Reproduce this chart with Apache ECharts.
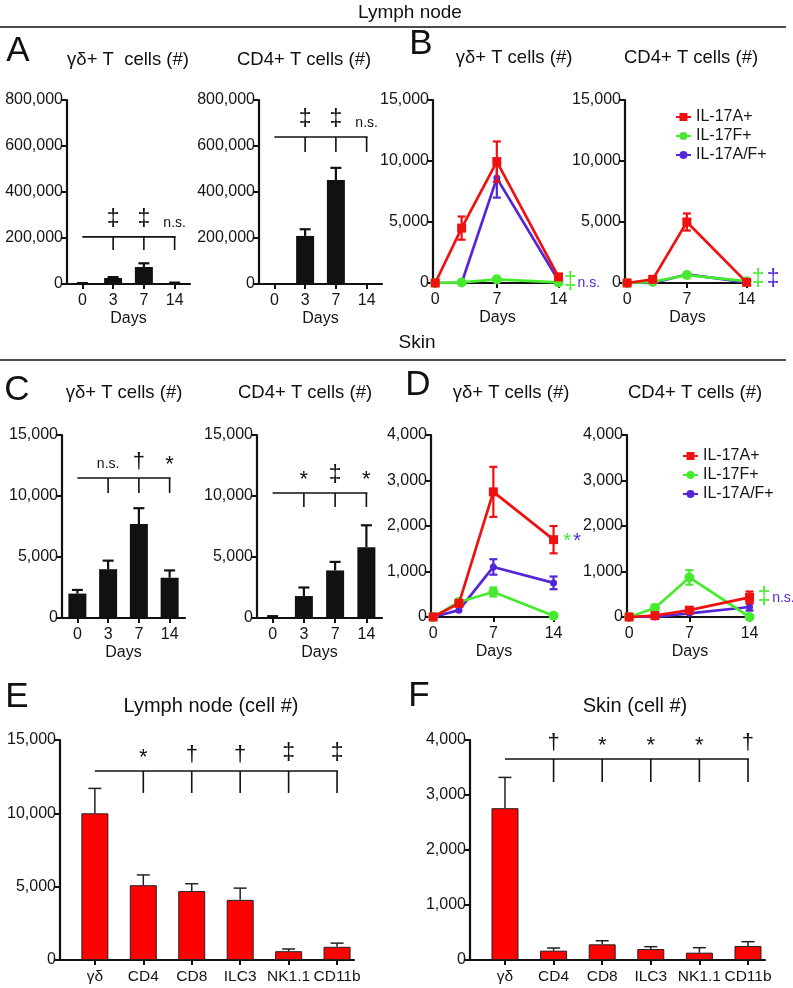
<!DOCTYPE html>
<html><head><meta charset="utf-8">
<script src="https://cdn.jsdelivr.net/npm/echarts@6/dist/echarts.min.js"></script>
<style>html,body{margin:0;padding:0;background:#fff}#c{width:793px;height:988px}</style>
</head><body><div id="c"></div>
<script>
// ---------------- data ----------------
const dayCats = ['0', '3', '7', '14'];
const days = [0, 3, 7, 14];
const dayTicks = [0, 7, 14];
// Panel A: lymph node totals (mean, mean+SEM)
const aGdMean = [3000, 26000, 74000, 4000];
const aGdTop = [4000, 30000, 90000, 6000];
const aCd4Mean = [0, 209000, 452000, 0];
const aCd4Top = [0, 238000, 505000, 0];
// Panel B: lymph node IL-17 producers (mean, SEM)
const bGdA = [0, 4500, 9950, 500];
const bGdAsem = [0, 950, 1650, 0];
const bGdF = [0, 50, 300, 50];
const bGdFsem = [0, 0, 0, 0];
const bGdAF = [0, 0, 8600, 200];
const bGdAFsem = [0, 0, 1600, 0];
const bCd4A = [0, 300, 5000, 50];
const bCd4Asem = [0, 0, 700, 0];
const bCd4F = [0, 100, 650, 150];
const bCd4Fsem = [0, 0, 0, 0];
const bCd4AF = [0, 0, 700, 50];
const bCd4AFsem = [0, 0, 0, 0];
// Panel C: skin totals
const cGdMean = [2000, 4000, 7700, 3300];
const cGdTop = [2300, 4700, 9000, 3900];
const cCd4Mean = [50, 1800, 3900, 5800];
const cCd4Top = [150, 2500, 4600, 7600];
// Panel D: skin IL-17 producers
const dGdA = [0, 300, 2750, 1700];
const dGdAsem = [0, 0, 550, 300];
const dGdF = [0, 330, 550, 30];
const dGdFsem = [0, 0, 100, 0];
const dGdAF = [0, 150, 1100, 750];
const dGdAFsem = [0, 0, 170, 140];
const dCd4A = [0, 30, 150, 430];
const dCd4Asem = [0, 0, 0, 130];
const dCd4F = [0, 200, 870, 0];
const dCd4Fsem = [0, 70, 160, 0];
const dCd4AF = [0, 0, 80, 220];
const dCd4AFsem = [0, 0, 0, 80];
// Panels E, F: IL-17A+ cell numbers by cell type
const cellCats = ['γδ', 'CD4', 'CD8', 'ILC3', 'NK1.1', 'CD11b'];
const eMean = [10000, 5100, 4700, 4100, 600, 900];
const eTop = [11700, 5800, 5200, 4900, 750, 1150];
const fMean = [2760, 170, 285, 200, 133, 255];
const fTop = [3320, 218, 350, 242, 224, 333];
const seriesNames = ['IL-17A+', 'IL-17F+', 'IL-17A/F+'];
// significance brackets: grid, start category, tick categories, bracket level, tick bottom, marks
const brackets = [
  {grid: 0, start: 0, ticks: [1, 2, 3], level: 205000, drop: 148000, marks: ['‡', '‡', 'n.s.']},
  {grid: 1, start: 0, ticks: [1, 2, 3], level: 639000, drop: 574000, marks: ['‡', '‡', 'n.s.']},
  {grid: 4, start: 0, ticks: [1, 2, 3], level: 11475, drop: 10250, marks: ['n.s.', '†', '*']},
  {grid: 5, start: 0, ticks: [1, 2, 3], level: 10250, drop: 9100, marks: ['*', '‡', '*']},
  {grid: 8, start: 0, ticks: [1, 2, 3, 4, 5], level: 12890, drop: 11390, marks: ['*', '†', '†', '‡', '‡']},
  {grid: 9, start: 0, ticks: [1, 2, 3, 4, 5], level: 3655, drop: 3236, marks: ['†', '*', '*', '*', '†']}
];
// side marks next to day-14 points: grid, anchor value, text, series colour key
const sideMarks = [
  {grid: 2, y: 0, text: '‡', key: 'F'}, {grid: 2, y: 0, text: 'n.s.', key: 'AF'},
  {grid: 3, y: 300, text: '‡', key: 'F'}, {grid: 3, y: 300, text: '‡', key: 'AF'},
  {grid: 6, y: 1650, text: '*', key: 'F'}, {grid: 6, y: 1650, text: '*', key: 'AF'},
  {grid: 7, y: 420, text: '‡', key: 'F'}, {grid: 7, y: 420, text: 'n.s.', key: 'AF'}
];

// ---------------- styles ----------------
const FONT = '"Liberation Sans", Arial, Helvetica, sans-serif';
const RED = '#f01010', GREEN = '#48ea30', PURPLE = '#5526d8', INK = '#111';
const COLORS = {A: RED, F: GREEN, AF: PURPLE};
const sideDx = [12, 19, 11.5, 26.5, 13.6, 23.6, 14.6, 22.6];
const sideSize = {'‡': 23, '*': 20, 'n.s.': 14};
const markOff = {'‡': 17, '†': 16, '*': 13, 'n.s.': 14};
const markSize = {'‡': 23, '†': 22, '*': 22, 'n.s.': 14};

function fmt(v) { return String(Math.round(v)).replace(/\B(?=(\d{3})+(?!\d))/g, ','); }

const grids = [
  {left: 67, top: 100, width: 123, height: 184},
  {left: 259, top: 100, width: 123, height: 184},
  {left: 433, top: 100, width: 129, height: 183},
  {left: 625, top: 100, width: 125, height: 183},
  {left: 62, top: 435, width: 123, height: 183},
  {left: 257, top: 435, width: 125, height: 183},
  {left: 431, top: 435, width: 126, height: 182},
  {left: 627, top: 435, width: 126, height: 182},
  {left: 60, top: 740, width: 294, height: 220},
  {left: 470, top: 740, width: 295, height: 220}
];

const axLine = {show: true, onZero: false, lineStyle: {color: INK, width: 2.2}};
const axTick = {show: true, length: 5, lineStyle: {color: INK, width: 2}};
const lblStyle = {color: '#151515', fontSize: 16, fontFamily: FONT};
const cellLblStyle = {color: '#151515', fontSize: 15.5, fontFamily: FONT};

function yAx(gi, max, interval) {
  return {type: 'value', gridIndex: gi, min: 0, max: max, interval: interval,
    axisLine: axLine, axisTick: axTick, splitLine: {show: false},
    axisLabel: Object.assign({margin: 4, formatter: fmt}, lblStyle)};
}
function xCat(gi) {
  return {type: 'category', gridIndex: gi, data: dayCats,
    axisLine: axLine, axisTick: Object.assign({alignWithLabel: true}, axTick),
    axisLabel: Object.assign({margin: 9}, lblStyle),
    name: 'Days', nameLocation: 'middle', nameGap: 27, nameTextStyle: lblStyle};
}
function xDay(gi) {
  return {type: 'value', gridIndex: gi, min: -0.25, max: 14.4,
    axisLine: axLine, splitLine: {show: false},
    axisTick: Object.assign({customValues: dayTicks}, axTick),
    axisLabel: Object.assign({margin: 9, customValues: dayTicks}, lblStyle),
    name: 'Days', nameLocation: 'middle', nameGap: 27, nameTextStyle: lblStyle};
}
function xCell(gi) {
  const idx = cellCats.map((c, i) => i);
  return {type: 'value', gridIndex: gi, min: -0.72, max: 5.35,
    axisLine: axLine, splitLine: {show: false},
    axisTick: Object.assign({customValues: idx}, axTick),
    axisLabel: Object.assign({margin: 9, customValues: idx, formatter: v => cellCats[Math.round(v)]}, cellLblStyle)};
}

const xAxes = [xCat(0), xCat(1), xDay(2), xDay(3), xCat(4), xCat(5), xDay(6), xDay(7), xCell(8), xCell(9)];
const yAxes = [yAx(0, 800000, 200000), yAx(1, 800000, 200000), yAx(2, 15000, 5000), yAx(3, 15000, 5000),
  yAx(4, 15000, 5000), yAx(5, 15000, 5000), yAx(6, 4000, 1000), yAx(7, 4000, 1000),
  yAx(8, 15000, 5000), yAx(9, 4000, 1000)];

function barErrRender(capW, color, lw) {
  return function (params, api) {
    const x = api.value(0), v = api.value(1), t = api.value(2);
    if (t <= v) return null;
    const p1 = api.coord([x, v]), p2 = api.coord([x, t]);
    return {type: 'group', children: [
      {type: 'line', shape: {x1: p1[0], y1: p1[1], x2: p2[0], y2: p2[1]}, style: {stroke: color, lineWidth: lw}},
      {type: 'line', shape: {x1: p2[0] - capW / 2, y1: p2[1], x2: p2[0] + capW / 2, y2: p2[1]}, style: {stroke: color, lineWidth: lw}}
    ]};
  };
}
function lineErrRender(capW, color, lw) {
  return function (params, api) {
    const x = api.value(0), lo = api.value(1), hi = api.value(2);
    if (hi <= lo) return null;
    const p1 = api.coord([x, lo]), p2 = api.coord([x, hi]);
    return {type: 'group', children: [
      {type: 'line', shape: {x1: p1[0], y1: p1[1], x2: p2[0], y2: p2[1]}, style: {stroke: color, lineWidth: lw}},
      {type: 'line', shape: {x1: p2[0] - capW / 2, y1: p2[1], x2: p2[0] + capW / 2, y2: p2[1]}, style: {stroke: color, lineWidth: lw}},
      {type: 'line', shape: {x1: p1[0] - capW / 2, y1: p1[1], x2: p1[0] + capW / 2, y2: p1[1]}, style: {stroke: color, lineWidth: lw}}
    ]};
  };
}

const series = [];
function addBars(gi, mean, top, opts) {
  series.push(Object.assign({type: 'bar', xAxisIndex: gi, yAxisIndex: gi, barWidth: opts.w,
    data: mean.map((v, i) => [i, v]), itemStyle: opts.item, silent: true, z: 2}));
  series.push({type: 'custom', xAxisIndex: gi, yAxisIndex: gi, z: 3, silent: true,
    renderItem: barErrRender(opts.cap, opts.errColor, opts.lw),
    data: mean.map((v, i) => [i, v, top[i]])});
}
const blackBar = {w: 18, item: {color: INK}, cap: 11, errColor: INK, lw: 2.2};
const redBar = {w: 27, item: {color: '#ff0000', borderColor: '#222', borderWidth: 1}, cap: 13, errColor: '#222', lw: 1.5};
addBars(0, aGdMean, aGdTop, blackBar);
addBars(1, aCd4Mean, aCd4Top, blackBar);
addBars(4, cGdMean, cGdTop, blackBar);
addBars(5, cCd4Mean, cCd4Top, blackBar);
addBars(8, eMean, eTop, redBar);
addBars(9, fMean, fTop, redBar);

const symbolOf = {A: ['rect', 9], F: ['circle', 10], AF: ['circle', 7]};
const nameOf = {A: seriesNames[0], F: seriesNames[1], AF: seriesNames[2]};
function addLines(gi, sets) {
  // draw order: A/F+ bottom, F middle, A top
  ['AF', 'F', 'A'].forEach((k, order) => {
    const vals = sets[k][0], sem = sets[k][1];
    const c = COLORS[k];
    series.push({type: 'line', name: nameOf[k], xAxisIndex: gi, yAxisIndex: gi, z: 3 + order * 2,
      data: days.map((d, i) => [d, vals[i]]), symbol: symbolOf[k][0], symbolSize: symbolOf[k][1],
      showAllSymbol: true, lineStyle: {color: c, width: 2.7}, itemStyle: {color: c}, silent: true, animation: false});
    series.push({type: 'custom', xAxisIndex: gi, yAxisIndex: gi, z: 4 + order * 2, silent: true,
      renderItem: lineErrRender(8, c, 2.2),
      data: days.map((d, i) => [d, vals[i] - sem[i], vals[i] + sem[i]])});
  });
}
addLines(2, {A: [bGdA, bGdAsem], F: [bGdF, bGdFsem], AF: [bGdAF, bGdAFsem]});
addLines(3, {A: [bCd4A, bCd4Asem], F: [bCd4F, bCd4Fsem], AF: [bCd4AF, bCd4AFsem]});
addLines(6, {A: [dGdA, dGdAsem], F: [dGdF, dGdFsem], AF: [dGdAF, dGdAFsem]});
addLines(7, {A: [dCd4A, dCd4Asem], F: [dCd4F, dCd4Fsem], AF: [dCd4AF, dCd4AFsem]});

function legendAt(left, top) {
  return {data: seriesNames, orient: 'vertical', left: left, top: top, itemWidth: 15, itemHeight: 10,
    itemGap: 3, selectedMode: false, textStyle: {fontSize: 16, fontFamily: FONT, color: '#151515'}};
}

function txt(x, y, s, size, opts) {
  return Object.assign({type: 'text', x: x, y: y, style: {text: s, fontSize: size, fontFamily: FONT,
    fill: (opts && opts.fill) || INK, align: (opts && opts.align) || 'center', verticalAlign: 'middle'}}, {z: 50});
}
function hline(x1, y, x2, w) {
  return {type: 'line', shape: {x1: x1, y1: y, x2: x2, y2: y}, style: {stroke: INK, lineWidth: w || 1.6}, z: 50};
}

const staticGraphics = [
  txt(410, 13, 'Lymph node', 19), hline(0, 27, 786),
  txt(417, 343, 'Skin', 19), hline(0, 360, 786),
  txt(18, 51, 'A', 35), txt(421, 44, 'B', 35), txt(17, 390, 'C', 35), txt(418, 385, 'D', 35),
  txt(17, 697, 'E', 35), txt(419, 696, 'F', 35),
  txt(128, 60, 'γδ+ T  cells (#)', 18.5), txt(304, 60, 'CD4+ T cells (#)', 18.5),
  txt(514, 58, 'γδ+ T cells (#)', 18.5), txt(691, 58, 'CD4+ T cells (#)', 18.5),
  txt(124, 393, 'γδ+ T cells (#)', 18.5), txt(305, 393, 'CD4+ T cells (#)', 18.5),
  txt(511, 393, 'γδ+ T cells (#)', 18.5), txt(695, 393, 'CD4+ T cells (#)', 18.5),
  txt(211, 706, 'Lymph node (cell #)', 20), txt(635, 706, 'Skin (cell #)', 20)
];

const option = {
  animation: false,
  backgroundColor: '#fff',
  textStyle: {fontFamily: FONT},
  grid: grids,
  xAxis: xAxes,
  yAxis: yAxes,
  legend: [legendAt(670, 104), legendAt(677, 443)],
  series: series,
  graphic: staticGraphics
};

const chart = echarts.init(document.getElementById('c'), null, {renderer: 'canvas'});
chart.setOption(option);

// annotations positioned through the axes' own scales
const dyn = [];
brackets.forEach(b => {
  const p0 = chart.convertToPixel({gridIndex: b.grid}, [b.start, b.level]);
  const last = b.ticks[b.ticks.length - 1];
  const pe = chart.convertToPixel({gridIndex: b.grid}, [last, b.level]);
  dyn.push({type: 'line', shape: {x1: p0[0], y1: p0[1], x2: pe[0] + 1, y2: p0[1]}, style: {stroke: INK, lineWidth: 1.6}});
  b.ticks.forEach((t, i) => {
    const pt = chart.convertToPixel({gridIndex: b.grid}, [t, b.level]);
    const pd = chart.convertToPixel({gridIndex: b.grid}, [t, b.drop]);
    dyn.push({type: 'line', shape: {x1: pt[0], y1: pt[1], x2: pd[0], y2: pd[1]}, style: {stroke: INK, lineWidth: 1.6}});
    const m = b.marks[i];
    dyn.push({type: 'text', x: pt[0], y: pt[1] - markOff[m], style: {text: m, fontSize: markSize[m], fontFamily: FONT,
      fill: INK, align: 'center', verticalAlign: 'middle'}});
  });
});
sideMarks.forEach((s, i) => {
  const p = chart.convertToPixel({gridIndex: s.grid}, [14, s.y]);
  const isNs = s.text === 'n.s.';
  dyn.push({type: 'text', x: p[0] + sideDx[i], y: p[1], style: {text: s.text, fontSize: sideSize[s.text], fontFamily: FONT,
    fill: COLORS[s.key], align: isNs ? 'left' : 'center', verticalAlign: 'middle'}});
});
chart.setOption({graphic: staticGraphics.concat(dyn)});
</script>
</body></html>
